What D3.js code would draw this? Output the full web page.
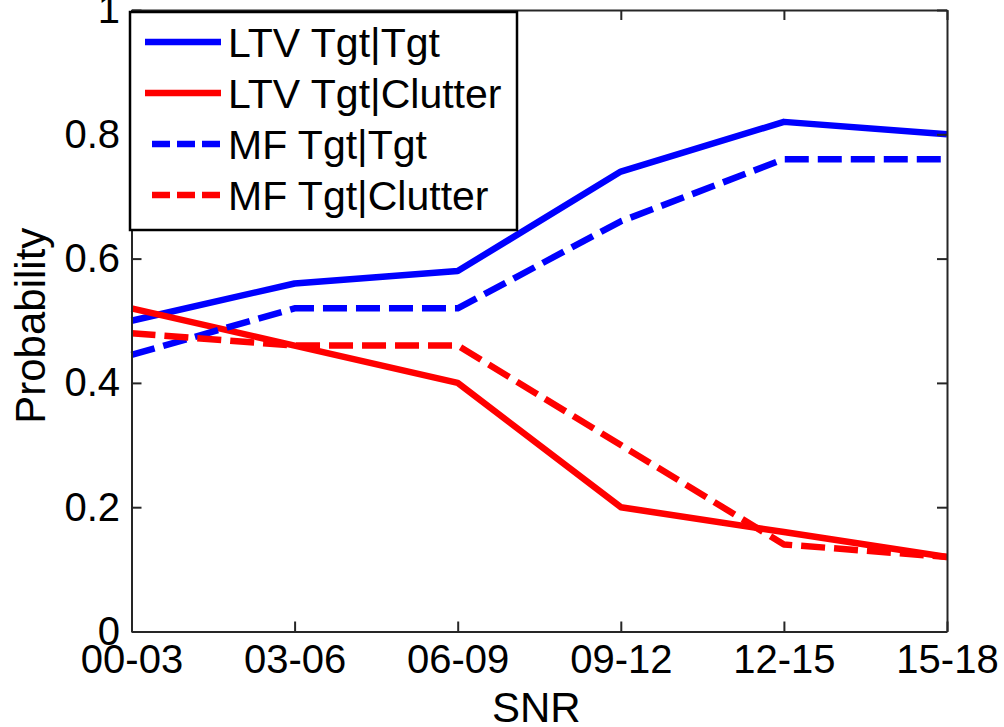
<!DOCTYPE html>
<html>
<head>
<meta charset="utf-8">
<script src="https://cdn.jsdelivr.net/npm/d3@7/dist/d3.min.js"></script>
<style>
  html, body { margin: 0; padding: 0; background: #fff; }
  svg { display: block; }
  text { font-family: "Liberation Sans", Arial, sans-serif; fill: #000; }
</style>
</head>
<body>
<script>
// ---- data ----
const categories = ["00-03", "03-06", "06-09", "09-12", "12-15", "15-18"];
const ltvTgtTgt     = [0.50, 0.56, 0.58, 0.74, 0.82, 0.80];
const ltvTgtClutter = [0.52, 0.46, 0.40, 0.20, 0.16, 0.12];
const mfTgtTgt      = [0.445, 0.52, 0.52, 0.66, 0.76, 0.76];
const mfTgtClutter  = [0.48, 0.46, 0.46, 0.30, 0.14, 0.12];
const seriesNames   = ["LTV Tgt|Tgt", "LTV Tgt|Clutter", "MF Tgt|Tgt", "MF Tgt|Clutter"];
const yTicks        = [0, 0.2, 0.4, 0.6, 0.8, 1];
const yTickLabels   = ["0", "0.2", "0.4", "0.6", "0.8", "1"];
const xTitle = "SNR";
const yTitle = "Probability";

const series = [
  { name: seriesNames[0], values: ltvTgtTgt,     color: "#0000ff", dashed: false },
  { name: seriesNames[1], values: ltvTgtClutter, color: "#ff0000", dashed: false },
  { name: seriesNames[2], values: mfTgtTgt,      color: "#0000ff", dashed: true },
  { name: seriesNames[3], values: mfTgtClutter,  color: "#ff0000", dashed: true }
];

// ---- layout ----
const W = 1004, H = 727;
const L = 131.5, R = 947, T = 10, B = 631.5;

const svg = d3.select("body").append("svg").attr("width", W).attr("height", H);

const x = d3.scalePoint().domain(categories).range([L, R]);
const y = d3.scaleLinear().domain([0, 1]).range([B, T]);

const axisColor = "#262626";
const tickFont = 40;

// series lines (drawn first, axes on top)
const line = d3.line().x((d, i) => x(categories[i])).y(d => y(d));
svg.append("g").selectAll("path").data(series).join("path")
  .attr("d", d => line(d.values))
  .attr("fill", "none")
  .attr("stroke", d => d.color)
  .attr("stroke-width", 6.5)
  .attr("stroke-linejoin", "round")
  .attr("stroke-dasharray", d => d.dashed ? "24,9" : null);

function styleAxis(g) {
  g.select(".domain").attr("stroke", axisColor).attr("stroke-width", 2);
  g.selectAll(".tick line").attr("stroke", axisColor).attr("stroke-width", 2);
  g.selectAll(".tick text").attr("font-size", tickFont)
    .attr("font-family", "'Liberation Sans', Arial, sans-serif").attr("fill", "#000");
}

// bottom axis
svg.append("g").attr("transform", `translate(0,${B})`)
  .call(d3.axisBottom(x).tickSizeInner(-10).tickSizeOuter(0).tickPadding(13))
  .call(styleAxis);
// top axis
svg.append("g").attr("transform", `translate(0,${T})`)
  .call(d3.axisTop(x).tickSizeInner(-10).tickSizeOuter(0).tickFormat(""))
  .call(styleAxis);
// left axis
svg.append("g").attr("transform", `translate(${L},0)`)
  .call(d3.axisLeft(y).tickValues(yTicks).tickFormat((d, i) => yTickLabels[i])
    .tickSizeInner(-10).tickSizeOuter(0).tickPadding(11.5))
  .call(styleAxis);
// right axis
svg.append("g").attr("transform", `translate(${R},0)`)
  .call(d3.axisRight(y).tickValues(yTicks).tickFormat("")
    .tickSizeInner(-10).tickSizeOuter(0))
  .call(styleAxis);

// axis titles
svg.append("text").attr("x", (L + R) / 2 - 3).attr("y", 722)
  .attr("text-anchor", "middle").attr("font-size", 42).text(xTitle);
svg.append("text")
  .attr("transform", `translate(45,${(T + B) / 2 + 5}) rotate(-90)`)
  .attr("text-anchor", "middle").attr("font-size", 42).text(yTitle);

// legend
const lg = svg.append("g");
lg.append("rect").attr("x", 130).attr("y", 12).attr("width", 387).attr("height", 218)
  .attr("fill", "#fff").attr("stroke", "#000").attr("stroke-width", 2.5);
const rowY = [42, 93, 144, 195];
const items = lg.selectAll("g.item").data(series).join("g").attr("class", "item")
  .attr("transform", (d, i) => `translate(0,${rowY[i]})`);
items.append("line")
  .attr("x1", d => d.dashed ? 152 : 145).attr("x2", 221).attr("y1", 0).attr("y2", 0)
  .attr("stroke", d => d.color).attr("stroke-width", 6.5)
  .attr("stroke-dasharray", d => d.dashed ? "18,7" : null);
items.append("text").attr("x", 228).attr("y", 0).attr("dy", "0.36em")
  .attr("font-size", 41).text(d => d.name);
</script>
</body>
</html>
